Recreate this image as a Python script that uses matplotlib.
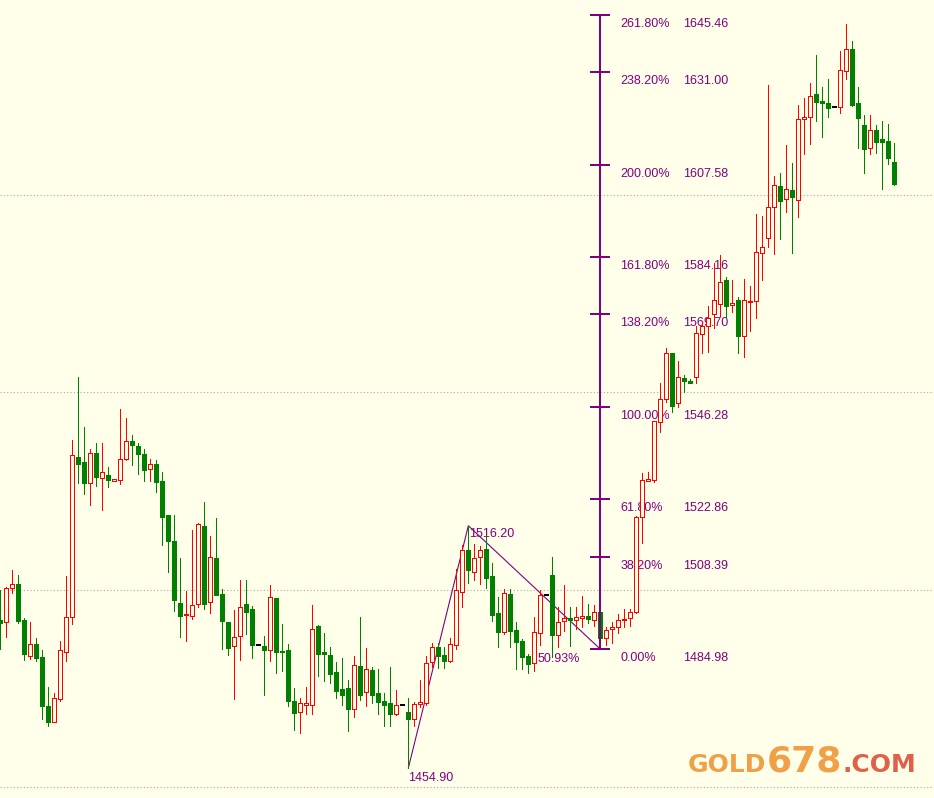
import matplotlib
matplotlib.use('Agg')
import matplotlib.pyplot as plt
import numpy as np

# ---------------- data ----------------
opens = [
    1492.4, 1491.9, 1500.5, 1501.5, 1492.4, 1483.3, 1486.3, 1483.0, 1470.6, 1466.6,
    1472.4, 1484.3, 1493.0, 1533.6, 1532.3, 1527.0, 1534.6, 1528.4, 1529.1, 1527.5,
    1527.7, 1533.1, 1537.7, 1536.4, 1534.4, 1530.5, 1531.8, 1527.5, 1518.8, 1512.4,
    1496.7, 1493.7, 1493.4, 1496.3, 1516.1, 1496.8, 1508.0, 1498.9, 1491.8, 1485.7,
    1488.2, 1496.4, 1495.1, 1486.0, 1485.8, 1484.7, 1497.9, 1484.5, 1484.7, 1471.9,
    1469.0, 1470.9, 1470.8, 1490.8, 1484.3, 1483.5, 1479.2, 1474.9, 1475.1, 1469.8,
    1480.7, 1474.1, 1479.6, 1473.9, 1471.9, 1471.3, 1468.6, 1470.8, 1469.1, 1467.2,
    1471.1, 1471.3, 1481.6, 1485.5, 1483.5, 1482.0, 1485.9, 1499.4, 1510.1, 1504.6,
    1508.2, 1510.3, 1503.5, 1494.1, 1489.4, 1498.9, 1489.8, 1487.0, 1483.3, 1481.4,
    1489.1, 1498.6, 1503.7, 1488.5, 1492.1, 1492.9, 1492.3, 1492.9, 1493.4, 1492.4,
    1494.3, 1487.9, 1490.0, 1490.5, 1492.3, 1492.8, 1494.3, 1518.3, 1527.6, 1527.8,
    1542.4, 1548.2, 1559.9, 1547.2, 1553.6, 1552.8, 1553.9, 1564.7, 1566.8, 1569.7,
    1572.3, 1578.4, 1572.0, 1573.3, 1564.3, 1572.8, 1573.2, 1585.2, 1589.0, 1597.0,
    1602.1, 1598.8, 1601.1, 1598.6, 1619.1, 1619.6, 1625.5, 1623.7, 1623.1, 1622.1,
    1622.1, 1631.2, 1636.8, 1623.1, 1617.6, 1611.7, 1616.3, 1614.0, 1613.6, 1608.3,
]
highs = [
    1499.9, 1500.8, 1505.0, 1503.7, 1492.8, 1491.8, 1487.8, 1484.8, 1475.4, 1474.0,
    1487.0, 1503.5, 1537.9, 1553.9, 1541.2, 1535.6, 1537.2, 1537.2, 1531.1, 1528.0,
    1545.8, 1543.5, 1539.2, 1537.2, 1535.6, 1533.1, 1532.8, 1529.8, 1519.0, 1518.9,
    1508.0, 1499.7, 1515.1, 1516.9, 1522.2, 1513.6, 1518.2, 1500.2, 1491.8, 1494.9,
    1502.5, 1502.5, 1495.9, 1486.0, 1488.4, 1501.2, 1497.9, 1491.3, 1486.3, 1475.1,
    1472.5, 1475.4, 1496.1, 1491.1, 1489.1, 1485.5, 1481.7, 1482.7, 1477.2, 1483.3,
    1493.1, 1485.3, 1480.5, 1479.9, 1473.9, 1480.5, 1474.6, 1470.8, 1472.5, 1471.7,
    1477.2, 1483.3, 1486.6, 1486.6, 1485.4, 1487.9, 1505.2, 1511.3, 1516.2, 1511.5,
    1511.1, 1513.9, 1506.7, 1498.2, 1500.2, 1500.1, 1491.9, 1487.5, 1483.8, 1493.0,
    1499.9, 1498.6, 1508.4, 1495.7, 1501.1, 1495.7, 1495.7, 1498.4, 1496.4, 1496.1,
    1494.5, 1490.5, 1491.8, 1493.9, 1495.1, 1495.1, 1518.7, 1529.5, 1529.9, 1542.7,
    1552.3, 1561.3, 1559.9, 1557.9, 1554.3, 1553.4, 1566.8, 1567.6, 1571.8, 1582.6,
    1584.7, 1579.2, 1578.4, 1574.2, 1578.6, 1577.0, 1595.1, 1594.6, 1627.8, 1604.7,
    1605.5, 1612.6, 1608.0, 1622.7, 1624.5, 1628.2, 1635.4, 1627.3, 1629.3, 1622.1,
    1636.4, 1643.2, 1638.9, 1627.3, 1620.2, 1620.2, 1617.6, 1618.7, 1617.9, 1613.1,
]
lows = [
    1485.1, 1488.1, 1499.1, 1491.7, 1482.2, 1482.6, 1482.0, 1467.4, 1465.4, 1466.6,
    1471.9, 1482.0, 1491.4, 1527.1, 1524.2, 1521.5, 1526.3, 1520.3, 1526.1, 1527.5,
    1526.8, 1532.9, 1531.7, 1529.4, 1527.6, 1527.6, 1524.8, 1511.4, 1504.6, 1494.7,
    1488.1, 1487.1, 1492.7, 1495.6, 1495.2, 1494.2, 1498.8, 1485.1, 1483.6, 1472.4,
    1482.2, 1488.8, 1482.8, 1486.0, 1473.4, 1482.0, 1478.9, 1479.4, 1470.7, 1464.6,
    1463.8, 1468.5, 1468.6, 1478.3, 1477.0, 1476.5, 1472.7, 1470.9, 1464.3, 1467.9,
    1472.2, 1470.7, 1471.3, 1468.6, 1465.4, 1465.6, 1468.4, 1470.8, 1454.9, 1465.4,
    1470.4, 1470.8, 1480.5, 1480.1, 1480.1, 1481.8, 1484.9, 1495.7, 1501.8, 1502.5,
    1501.5, 1500.5, 1492.2, 1485.6, 1488.8, 1485.6, 1479.9, 1479.9, 1479.0, 1479.4,
    1486.0, 1498.6, 1483.1, 1485.6, 1489.6, 1485.8, 1490.0, 1490.7, 1491.5, 1490.8,
    1487.3, 1486.0, 1486.5, 1489.1, 1490.7, 1490.9, 1494.1, 1511.8, 1527.6, 1527.4,
    1540.0, 1547.6, 1545.1, 1546.2, 1550.1, 1552.3, 1552.4, 1560.0, 1560.3, 1566.2,
    1569.4, 1568.7, 1570.4, 1560.0, 1558.8, 1565.5, 1568.9, 1578.4, 1586.8, 1585.0,
    1588.9, 1595.7, 1585.3, 1594.4, 1610.4, 1612.7, 1618.7, 1614.7, 1619.7, 1622.1,
    1620.7, 1629.4, 1622.5, 1611.9, 1605.6, 1610.4, 1610.6, 1601.5, 1607.8, 1602.5,
]
closes = [
    1491.7, 1500.4, 1501.4, 1492.2, 1483.8, 1486.2, 1482.8, 1470.7, 1466.6, 1472.5,
    1484.7, 1493.0, 1534.0, 1531.9, 1527.0, 1534.5, 1528.5, 1529.7, 1527.8, 1528.0,
    1533.0, 1537.7, 1536.7, 1534.4, 1530.4, 1531.8, 1527.4, 1518.5, 1512.4, 1497.5,
    1493.4, 1493.9, 1496.1, 1516.7, 1496.5, 1508.2, 1498.8, 1492.2, 1485.3, 1488.0,
    1495.6, 1494.5, 1485.9, 1486.0, 1484.8, 1498.1, 1484.3, 1484.3, 1471.9, 1468.9,
    1471.3, 1471.3, 1490.0, 1483.8, 1483.8, 1478.8, 1474.5, 1473.4, 1469.7, 1480.9,
    1473.4, 1479.9, 1473.4, 1471.7, 1470.9, 1468.6, 1470.8, 1470.8, 1467.2, 1471.0,
    1471.5, 1481.4, 1485.5, 1483.3, 1482.0, 1486.2, 1499.9, 1510.0, 1505.0, 1508.0,
    1510.0, 1503.1, 1493.7, 1489.4, 1499.1, 1489.6, 1486.9, 1483.1, 1481.2, 1489.2,
    1498.7, 1498.6, 1488.6, 1491.8, 1492.8, 1492.3, 1493.0, 1493.4, 1492.5, 1494.5,
    1487.9, 1489.7, 1490.5, 1492.4, 1492.6, 1494.3, 1518.5, 1527.8, 1528.0, 1542.7,
    1548.2, 1559.9, 1546.6, 1553.9, 1552.8, 1552.3, 1564.9, 1566.8, 1568.7, 1573.3,
    1577.8, 1571.9, 1572.5, 1564.3, 1573.3, 1573.1, 1585.4, 1586.7, 1596.8, 1602.4,
    1598.5, 1601.4, 1599.5, 1619.1, 1619.6, 1624.9, 1623.5, 1623.1, 1622.0, 1622.1,
    1631.5, 1636.8, 1622.8, 1619.5, 1611.6, 1616.3, 1613.4, 1613.4, 1609.4, 1602.8,
]

grid_levels = [1450, 1500, 1550, 1600]

fib_ratio_labels = ['0.00%', '38.20%', '61.80%', '100.00%', '138.20%',
                    '161.80%', '200.00%', '238.20%', '261.80%']
fib_values = [1484.98, 1508.39, 1522.86, 1546.28, 1569.70,
              1584.16, 1607.58, 1631.00, 1645.46]

zigzag_idx = [68, 78, 100]
zigzag_price = [1454.90, 1516.20, 1484.98]
zigzag_labels = ['1454.90', '1516.20']
retrace_label = '50.93%'

watermark_parts = ['GOLD', '678', '.COM']

# ---------------- style ----------------
BG = '#FFFFEA'
RED = '#FF0000'
GREEN = '#008000'
PURPLE = '#800080'
ORANGE = '#F0A046'
COM_RED = '#E0604A'
LABEL_FONT = 'Liberation Sans'

W, H = 934, 798
fig = plt.figure(figsize=(W / 100, H / 100), dpi=100)
fig.patch.set_facecolor(BG)
ax = fig.add_axes([0, 0, 1, 1])
ax.set_facecolor(BG)
ax.set_xlim(-0.055, 155.61)
ax.set_ylim(1447.30, 1649.27)
ax.axis('off')

for g in grid_levels:
    ax.axhline(g, color='#A8A8A8', lw=0.8, ls=(0, (1, 2)), zorder=0)

o = np.array(opens); h = np.array(highs); l = np.array(lows); c = np.array(closes)
x = np.arange(len(o))
up = c > o
dn = c < o
fl = c == o
bw = 0.68
lw = 0.72
aa = False

# wicks
ax.vlines(x[dn], l[dn], h[dn], color=GREEN, lw=lw, zorder=3, antialiased=aa)
ax.vlines(x[up], c[up], h[up], color=RED, lw=lw, zorder=3, antialiased=aa)
ax.vlines(x[up], l[up], o[up], color=RED, lw=lw, zorder=3, antialiased=aa)
ax.vlines(x[fl], l[fl], h[fl], color='black', lw=lw, zorder=3, antialiased=aa)
# bodies
ax.bar(x[up], c[up] - o[up], bottom=o[up], width=bw, facecolor=BG,
       edgecolor=RED, lw=lw, zorder=4, antialiased=aa)
ax.bar(x[dn], o[dn] - c[dn], bottom=c[dn], width=bw, facecolor=GREEN,
       edgecolor=GREEN, lw=lw, zorder=4, antialiased=aa)
ax.hlines(c[fl], x[fl] - 0.42, x[fl] + 0.42, color='black', lw=1.2, zorder=4,
          antialiased=aa)

# zigzag
ax.plot(zigzag_idx, zigzag_price, color=PURPLE, lw=0.8, zorder=2)
tkw = dict(color=PURPLE, fontsize=9, family=LABEL_FONT, textcoords='offset pixels',
           ha='left', va='top', zorder=1)
ax.annotate(zigzag_labels[0], (zigzag_idx[0], zigzag_price[0]), xytext=(0, -4), **tkw)
ax.annotate(zigzag_labels[1], (zigzag_idx[1], zigzag_price[1]), xytext=(1, -2), **tkw)
ax.annotate(retrace_label, ((zigzag_idx[1] + zigzag_idx[2]) / 2, zigzag_price[2]),
            xytext=(3, -4), **tkw)

# fibonacci expansion
fx = zigzag_idx[2]
ax.vlines(fx, fib_values[0], fib_values[-1], color=PURPLE, lw=1.3, zorder=5,
          antialiased=aa)
ax.hlines(fib_values, fx - 1.65, fx + 1.65, color=PURPLE, lw=1.3, zorder=5,
          antialiased=aa)
for lab, val in zip(fib_ratio_labels, fib_values):
    ax.annotate(lab, (fx, val), xytext=(20, -3), **tkw)
    ax.annotate(f'{val:.2f}', (fx, val), xytext=(83, -3), **tkw)

# watermark
fig.canvas.draw()
r = fig.canvas.get_renderer()
base_y = (H - 772) / H
xpix = 688
sizes = [18, 26, 18]
colors = [ORANGE, ORANGE, COM_RED]
for txt, sz, col in zip(watermark_parts, sizes, colors):
    t = fig.text(xpix / W, base_y, txt, fontsize=sz, fontweight='bold',
                 family='DejaVu Sans', color=col, ha='left', va='baseline')
    bb = t.get_window_extent(r)
    xpix = bb.x1 + 0.5

fig.savefig('out.png', dpi=100, facecolor=BG)
